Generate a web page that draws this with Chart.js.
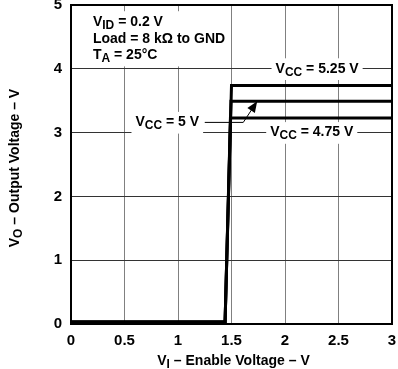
<!DOCTYPE html>
<html><head><meta charset="utf-8">
<script src="https://cdn.jsdelivr.net/npm/chart.js@4/dist/chart.umd.min.js"></script>
<style>html,body{margin:0;padding:0;background:#fff}canvas{display:block}</style>
</head><body>
<canvas id="c" width="398" height="369"></canvas>
<script>
// ---- data ----
const xTicks = [0, 0.5, 1, 1.5, 2, 2.5, 3];
const yTicks = [0, 1, 2, 3, 4, 5];
const seriesNames = ['V_{CC} = 5.25 V', 'V_{CC} = 5 V', 'V_{CC} = 4.75 V'];
const vcc525X = [0, 1.44, 1.5, 3];
const vcc525Y = [0.03, 0.03, 3.74, 3.74];
const vcc5X = [0, 1.44, 1.495, 3];
const vcc5Y = [0.03, 0.03, 3.49, 3.49];
const vcc475X = [0, 1.44, 1.49, 3];
const vcc475Y = [0.03, 0.03, 3.23, 3.23];
const conditions = ['V_{ID} = 0.2 V', 'Load = 8 kΩ to GND', 'T_{A} = 25°C'];
const xTitle = 'V_{I} – Enable Voltage – V';
const yTitle = 'V_{O} – Output Voltage – V';

// ---- annotation placement (data coordinates) ----
const labelPos = [
  {x: 2.30, y: 4.0},
  {x: 0.90, y: 3.16},
  {x: 2.25, y: 3.0}
];
const arrowPath = [[1.25, 3.16], [1.61, 3.16], [1.74, 3.49]];
const condPos = {x: 0.205, y: [4.73, 4.465, 4.21]};

const FONT = '"Liberation Sans", Arial, Helvetica, sans-serif';
function parse(s) {
  const parts = []; const re = /_\{([^}]*)\}/g; let last = 0, m;
  while ((m = re.exec(s))) {
    if (m.index > last) parts.push({t: s.slice(last, m.index), sub: false});
    parts.push({t: m[1], sub: true}); last = re.lastIndex;
  }
  if (last < s.length) parts.push({t: s.slice(last), sub: false});
  return parts;
}
function setFont(ctx, size, sub) { ctx.font = 'bold ' + (sub ? Math.round(size * 0.88) : size) + 'px ' + FONT; }
function richWidth(ctx, s, size) {
  let w = 0; for (const p of parse(s)) { setFont(ctx, size, p.sub); w += ctx.measureText(p.t).width; } return w;
}
function drawRich(ctx, s, x, y, size, align, bg) {
  const w = richWidth(ctx, s, size);
  let x0 = align === 'center' ? x - w / 2 : align === 'right' ? x - w : x;
  if (bg) { ctx.fillStyle = '#fff'; ctx.fillRect(x0 - bg, y - size * 0.75, w + 2 * bg, size * 1.55); }
  ctx.fillStyle = '#000'; ctx.textBaseline = 'middle'; ctx.textAlign = 'left';
  for (const p of parse(s)) {
    setFont(ctx, size, p.sub);
    ctx.fillText(p.t, x0, y + (p.sub ? size * 0.25 : 0));
    x0 += ctx.measureText(p.t).width;
  }
  return w;
}

const annot = {
  id: 'annot',
  afterDatasetsDraw(chart) {
    const ctx = chart.ctx, xs = chart.scales.x, ys = chart.scales.y, a = chart.chartArea;
    ctx.save();
    // conditions block
    let mw = 0; for (const c of conditions) mw = Math.max(mw, richWidth(ctx, c, 14));
    const cx = xs.getPixelForValue(condPos.x);
    const cy0 = ys.getPixelForValue(condPos.y[0]), cy2 = ys.getPixelForValue(condPos.y[2]);
    ctx.fillStyle = '#fff'; ctx.fillRect(cx - 5, cy0 - 11, mw + 10, cy2 - cy0 + 22);
    conditions.forEach((c, i) => drawRich(ctx, c, cx, ys.getPixelForValue(condPos.y[i]), 14, 'left', 0));
    // arrow
    const pts = arrowPath.map(p => [xs.getPixelForValue(p[0]), ys.getPixelForValue(p[1])]);
    ctx.strokeStyle = '#000'; ctx.lineWidth = 1;
    ctx.beginPath(); ctx.moveTo(pts[0][0], pts[0][1]);
    for (let i = 1; i < pts.length; i++) ctx.lineTo(pts[i][0], pts[i][1]);
    ctx.stroke();
    const [px, py] = pts[pts.length - 2], [tx, ty] = pts[pts.length - 1];
    const ang = Math.atan2(ty - py, tx - px), L = 11, W = 4.5;
    ctx.fillStyle = '#000'; ctx.beginPath(); ctx.moveTo(tx, ty);
    ctx.lineTo(tx - L * Math.cos(ang) + W * Math.sin(ang), ty - L * Math.sin(ang) - W * Math.cos(ang));
    ctx.lineTo(tx - L * Math.cos(ang) - W * Math.sin(ang), ty - L * Math.sin(ang) + W * Math.cos(ang));
    ctx.closePath(); ctx.fill();
    // series labels
    seriesNames.forEach((n, i) => drawRich(ctx, n, xs.getPixelForValue(labelPos[i].x), ys.getPixelForValue(labelPos[i].y), 14, 'center', 4));
    // border
    ctx.strokeStyle = '#000'; ctx.lineWidth = 2;
    ctx.strokeRect(a.left, a.top, a.right - a.left, a.bottom - a.top);
    // axis titles
    drawRich(ctx, xTitle, (a.left + a.right) / 2 + 2, 361, 14, 'center', 0);
    ctx.save(); ctx.translate(15, 168); ctx.rotate(-Math.PI / 2);
    drawRich(ctx, yTitle, 0, 0, 14, 'center', 0);
    ctx.restore();
    ctx.restore();
  }
};

const mk = (xa, ya) => xa.map((x, i) => ({x, y: ya[i]}));
const ds = (xa, ya) => ({data: mk(xa, ya), borderColor: '#000', borderWidth: 3, pointRadius: 0, tension: 0, fill: false, showLine: true, borderJoinStyle: 'miter'});

new Chart(document.getElementById('c'), {
  type: 'line',
  data: {datasets: [ds(vcc525X, vcc525Y), ds(vcc5X, vcc5Y), ds(vcc475X, vcc475Y)]},
  options: {
    responsive: false, animation: false, devicePixelRatio: 1,
    layout: {padding: {left: 0, top: 5, right: 6, bottom: 0}},
    plugins: {legend: {display: false}, tooltip: {enabled: false}},
    scales: {
      x: {
        type: 'linear', min: 0, max: 3,
        afterBuildTicks: s => { s.ticks = xTicks.map(v => ({value: v})); },
        afterFit: s => { s.height = 45; s.paddingLeft = 0; s.paddingRight = 0; },
        ticks: {color: '#000', padding: 8, maxRotation: 0, autoSkip: false, font: {family: FONT, size: 15, weight: 'bold'}, callback: v => String(v)},
        grid: {color: '#808080', lineWidth: 1, drawTicks: false},
        border: {display: false}
      },
      y: {
        type: 'linear', min: 0, max: 5,
        afterBuildTicks: s => { s.ticks = yTicks.map(v => ({value: v})); },
        afterFit: s => { s.width = 71; s.paddingTop = 0; s.paddingBottom = 0; },
        ticks: {color: '#000', padding: 9, autoSkip: false, font: {family: FONT, size: 15, weight: 'bold'}, callback: v => String(v)},
        grid: {color: '#333', lineWidth: 1, drawTicks: false},
        border: {display: false}
      }
    }
  },
  plugins: [annot]
});
</script>
</body></html>
